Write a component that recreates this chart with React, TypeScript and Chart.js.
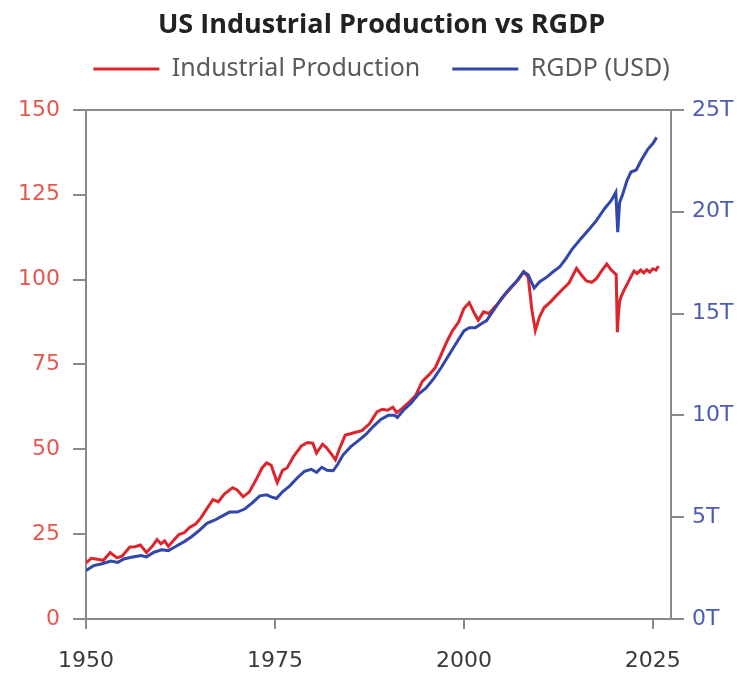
import React, { useEffect, useRef } from 'react';
import { Chart, registerables } from 'chart.js';

Chart.register(...registerables);

const TITLE = 'US Industrial Production vs RGDP';
const ipLabel = 'Industrial Production';
const gdpLabel = 'RGDP (USD)';

// Industrial Production index (left axis)
const ipYears = [
  1950.0, 1950.7, 1951.5, 1952.3, 1953.2, 1954.1, 1954.8, 1955.8, 1956.5, 1957.2,
  1958.0, 1958.8, 1959.4, 1959.9, 1960.4, 1960.9, 1961.6, 1962.3, 1963.0, 1963.7,
  1964.5, 1965.2, 1966.0, 1966.8, 1967.5, 1968.3, 1969.4, 1970.0, 1970.8, 1971.6,
  1972.5, 1973.3, 1973.9, 1974.5, 1975.3, 1976.0, 1976.6, 1977.5, 1978.5, 1979.3,
  1980.0, 1980.5, 1981.3, 1981.8, 1982.5, 1983.0, 1983.6, 1984.3, 1985.0, 1985.8,
  1986.5, 1987.5, 1988.5, 1989.2, 1989.9, 1990.6, 1991.1, 1991.8, 1992.8, 1993.6,
  1994.5, 1995.4, 1996.2, 1997.0, 1997.8, 1998.5, 1999.3, 2000.0, 2000.7, 2001.4,
  2001.9, 2002.6, 2003.3, 2003.9, 2004.7, 2005.6, 2006.4, 2007.2, 2007.9, 2008.5,
  2009.0, 2009.45, 2010.0, 2010.6, 2011.4, 2012.2, 2013.0, 2013.9, 2014.9, 2015.5,
  2016.2, 2016.9, 2017.5, 2018.2, 2018.9, 2019.5, 2019.9, 2020.15, 2020.3, 2020.45,
  2020.6, 2020.8, 2021.2, 2021.9, 2022.5, 2022.9, 2023.4, 2023.8, 2024.2, 2024.6,
  2025.0, 2025.4, 2025.75,
];
const ipValues = [
  16.5, 17.9, 17.6, 17.3, 19.6, 18.0, 18.6, 21.2, 21.3, 21.8,
  19.6, 21.5, 23.4, 22.2, 23.0, 21.4, 23.2, 24.9, 25.4, 27.0,
  28.0, 29.8, 32.5, 35.2, 34.5, 36.8, 38.7, 38.0, 36.0, 37.4,
  41.0, 44.5, 46.0, 45.3, 40.2, 43.8, 44.5, 48.0, 51.0, 52.0,
  51.8, 48.9, 51.5, 50.5, 48.5, 46.9, 50.5, 54.2, 54.6, 55.1,
  55.5, 57.5, 61.0, 61.8, 61.5, 62.4, 60.8, 62.0, 64.0, 65.8,
  70.0, 72.0, 74.0, 78.0, 82.0, 85.0, 87.5, 91.5, 93.2, 90.0,
  88.0, 90.5, 90.0, 91.5, 93.5, 96.0, 98.0, 100.0, 102.3, 100.8,
  91.0, 85.0, 89.0, 91.7, 93.3, 95.2, 97.0, 99.0, 103.3, 101.5,
  99.6, 99.2, 100.2, 102.5, 104.6, 102.8, 102.0, 101.5, 84.5, 90.0,
  93.5, 95.0, 97.0, 100.0, 102.5, 101.8, 102.8, 102.0, 102.9, 102.2,
  103.2, 102.8, 104.0,
];

// Real GDP, trillions of USD (right axis)
const gdpYears = [
  1950.0, 1951.0, 1952.0, 1953.3, 1954.2, 1955.0, 1956.0, 1957.3, 1958.0, 1959.0,
  1960.0, 1960.9, 1961.8, 1963.0, 1964.0, 1965.0, 1966.0, 1967.0, 1968.0, 1969.0,
  1970.0, 1971.0, 1972.0, 1973.0, 1973.9, 1974.5, 1975.2, 1976.0, 1977.0, 1978.0,
  1978.9, 1979.8, 1980.5, 1981.2, 1981.9, 1982.7, 1983.3, 1984.0, 1985.0, 1986.0,
  1987.0, 1988.0, 1989.0, 1990.0, 1990.8, 1991.2, 1992.0, 1993.0, 1994.0, 1995.0,
  1996.0, 1997.0, 1998.0, 1999.0, 2000.0, 2000.7, 2001.5, 2002.3, 2003.0, 2004.0,
  2005.0, 2006.0, 2007.0, 2007.9, 2008.5, 2009.3, 2010.0, 2011.0, 2011.8, 2012.7,
  2013.5, 2014.3, 2015.3, 2016.6, 2017.5, 2018.6, 2019.5, 2020.1, 2020.35, 2020.6,
  2021.0, 2021.6, 2022.1, 2022.8, 2023.5, 2024.3, 2025.0, 2025.5,
];
const gdpValues = [
  2.38, 2.62, 2.70, 2.85, 2.78, 2.95, 3.03, 3.12, 3.05, 3.28,
  3.40, 3.36, 3.55, 3.80, 4.05, 4.35, 4.70, 4.85, 5.05, 5.25,
  5.25, 5.40, 5.70, 6.05, 6.10, 6.00, 5.92, 6.25, 6.55, 6.95,
  7.25, 7.35, 7.20, 7.45, 7.30, 7.28, 7.60, 8.05, 8.45, 8.75,
  9.05, 9.45, 9.80, 10.00, 10.00, 9.90, 10.25, 10.60, 11.05, 11.35,
  11.80, 12.35, 12.95, 13.55, 14.15, 14.30, 14.30, 14.50, 14.65, 15.20,
  15.75, 16.20, 16.60, 17.05, 16.90, 16.25, 16.55, 16.80, 17.05, 17.30,
  17.70, 18.15, 18.60, 19.15, 19.55, 20.15, 20.55, 20.95, 19.00, 20.45,
  20.85, 21.55, 21.95, 22.05, 22.55, 23.05, 23.35, 23.65,
];

const xTickYears = [1950, 1975, 2000, 2025];
const xMin = 1950;
const xMax = 2027.4;
const ipTicks = [0, 25, 50, 75, 100, 125, 150];
const gdpTicks = [0, 5, 10, 15, 20, 25];

export default function App() {
  const ref = useRef<HTMLCanvasElement>(null);

  useEffect(() => {
    document.body.style.margin = '0';
    const axisColor = '#8a8a8a';
    const tickFont = { family: "'DejaVu Sans', sans-serif", size: 22 };
    const chart = new Chart(ref.current as HTMLCanvasElement, {
      type: 'line',
      data: {
        datasets: [
          {
            label: ipLabel,
            data: ipYears.map((x, i) => ({ x, y: ipValues[i] })),
            borderColor: '#dc252c',
            backgroundColor: '#dc252c',
            borderWidth: 3,
            pointRadius: 0,
            tension: 0,
            xAxisID: 'x',
            yAxisID: 'yIP',
            order: 2,
          },
          {
            label: gdpLabel,
            data: gdpYears.map((x, i) => ({ x, y: gdpValues[i] })),
            borderColor: '#3246ac',
            backgroundColor: '#3246ac',
            borderWidth: 3,
            pointRadius: 0,
            tension: 0,
            xAxisID: 'x',
            yAxisID: 'yGDP',
            order: 1,
          },
        ],
      },
      options: {
        animation: false,
        responsive: true,
        maintainAspectRatio: false,
        layout: { padding: { left: 16, right: 0, top: 0, bottom: 0 } },
        plugins: {
          title: {
            display: true,
            text: TITLE,
            color: '#222222',
            font: { family: "'Open Sans', sans-serif", size: 27, weight: 'bold', lineHeight: 1.2 },
            padding: { top: 9, bottom: -17 },
          },
          legend: {
            display: true,
            position: 'top',
            labels: {
              usePointStyle: true,
              pointStyle: 'line',
              pointStyleWidth: 66,
              color: '#5a5a5a',
              font: { family: "'Noto Sans', sans-serif", size: 25 },
              padding: 32,
              sort: (a: any, b: any) => a.datasetIndex - b.datasetIndex,
            },
          },
          tooltip: { enabled: false },
        },
        scales: {
          x: {
            type: 'linear',
            position: 'bottom',
            min: xMin,
            max: xMax,
            afterBuildTicks: (s: any) => {
              s.ticks = xTickYears.map((v) => ({ value: v }));
            },
            afterFit: (s: any) => {
              s.height = 59;
            },
            grid: { display: true, drawOnChartArea: false, drawTicks: true, tickLength: 10, color: axisColor, lineWidth: 2 },
            border: { display: true, color: axisColor, width: 2 },
            ticks: {
              color: '#3a3a3a',
              font: tickFont,
              padding: 19,
              maxRotation: 0,
              autoSkip: false,
              callback: (v: any) => String(v),
            },
          },
          xTop: {
            type: 'linear',
            position: 'top',
            min: xMin,
            max: xMax,
            grid: { display: false },
            ticks: { display: false },
            border: { display: true, color: axisColor, width: 2 },
            afterFit: (s: any) => {
              s.height = 18.5;
            },
          },
          yIP: {
            type: 'linear',
            position: 'left',
            min: 0,
            max: 150,
            afterBuildTicks: (s: any) => {
              s.ticks = ipTicks.map((v) => ({ value: v }));
            },
            afterFit: (s: any) => {
              s.width = 70;
            },
            grid: { display: true, drawOnChartArea: false, drawTicks: true, tickLength: 13, color: axisColor, lineWidth: 2 },
            border: { display: true, color: axisColor, width: 2 },
            ticks: {
              color: '#e4584e',
              font: tickFont,
              padding: 13,
              callback: (v: any) => String(v),
            },
          },
          yGDP: {
            type: 'linear',
            position: 'right',
            min: 0,
            max: 25,
            afterBuildTicks: (s: any) => {
              s.ticks = gdpTicks.map((v) => ({ value: v }));
            },
            afterFit: (s: any) => {
              s.width = 76;
            },
            grid: { display: true, drawOnChartArea: false, drawTicks: true, tickLength: 13, color: axisColor, lineWidth: 2 },
            border: { display: true, color: axisColor, width: 2 },
            ticks: {
              color: '#4d5db5',
              font: tickFont,
              padding: 8,
              callback: (v: any) => v + 'T',
            },
          },
        },
      },
    });
    return () => chart.destroy();
  }, []);

  return (
    <div style={{ position: 'relative', width: 747, height: 678 }}>
      <canvas ref={ref} />
    </div>
  );
}
